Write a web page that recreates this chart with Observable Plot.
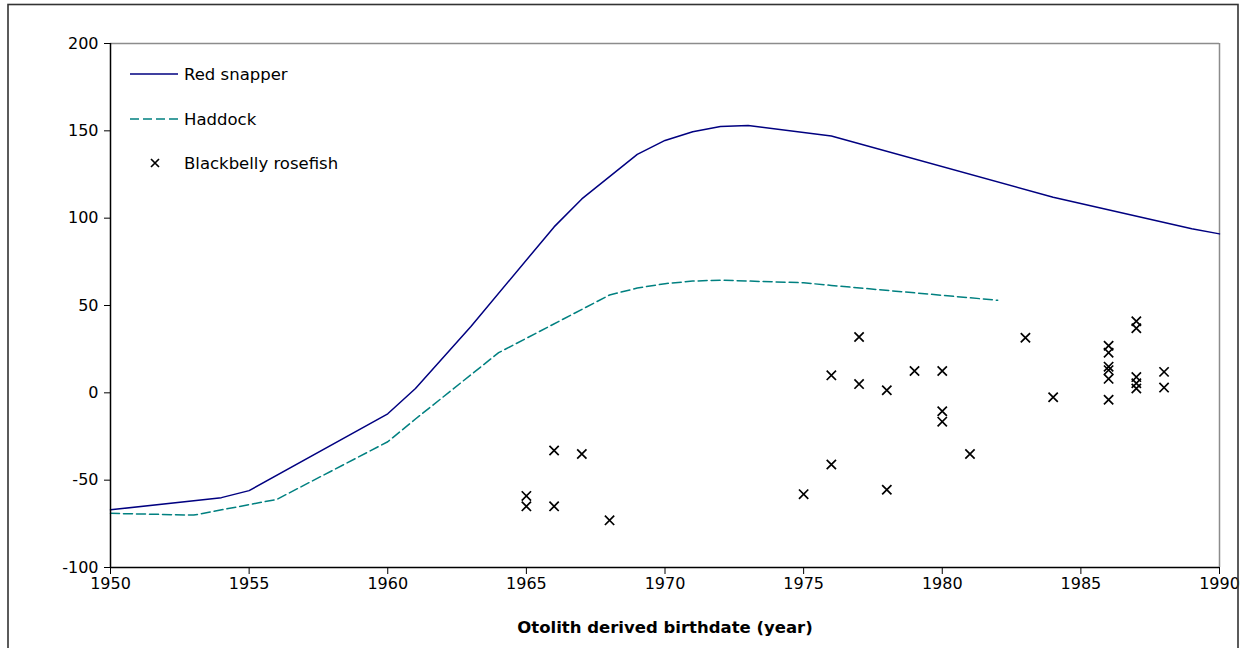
<!DOCTYPE html>
<html>
<head>
<meta charset="utf-8">
<script src="https://cdn.jsdelivr.net/npm/d3@7"></script>
<script src="https://cdn.jsdelivr.net/npm/@observablehq/plot@0.6"></script>
<style>
  html, body { margin: 0; padding: 0; background: #fff; }
  #chart { width: 1245px; height: 648px; overflow: hidden; }
</style>
</head>
<body>
<div id="chart"></div>
<script>
// Red snapper (solid navy line)
const snapperYears  = [1950, 1954, 1955, 1960, 1961, 1963, 1966, 1967, 1969, 1970, 1971, 1972, 1973, 1976, 1984, 1989, 1990];
const snapperValues = [-67, -60, -56, -12, 2.5, 38, 95, 111, 136.5, 144.5, 149.5, 152.5, 153, 147, 112, 94, 91];

// Haddock (dashed teal line)
const haddockYears  = [1950, 1953, 1956, 1960, 1961, 1964, 1968, 1969, 1970, 1971, 1972, 1975, 1976, 1982];
const haddockValues = [-69, -70, -61, -28, -15, 23, 56, 60, 62.5, 64, 64.5, 63, 61.5, 53];

// Blackbelly rosefish (x markers)
const roseYears  = [1965, 1965, 1966, 1966, 1967, 1968, 1975, 1976, 1976, 1977, 1977, 1978, 1978, 1979, 1980, 1980, 1980, 1981, 1983, 1984, 1986, 1986, 1986, 1986, 1986, 1986, 1987, 1987, 1987, 1987, 1987, 1988, 1988];
const roseValues = [-59, -65, -33, -65, -35, -73, -58, 10, -41, 32, 5, 1.5, -55.5, 12.5, 12.5, -10.5, -16.5, -35, 31.5, -2.5, 27, 23, 15, 13, 8, -4, 41, 37, 9, 5.5, 2.5, 12, 3];

const xTicks = [1950, 1955, 1960, 1965, 1970, 1975, 1980, 1985, 1990];
const yTicks = [-100, -50, 0, 50, 100, 150, 200];
const xLabel = "Otolith derived birthdate (year)";
const legendLabels = ["Red snapper", "Haddock", "Blackbelly rosefish"];

const snapper = snapperYears.map((x, i) => ({x, y: snapperValues[i]}));
const haddock = haddockYears.map((x, i) => ({x, y: haddockValues[i]}));
const rose = roseYears.map((x, i) => ({x, y: roseValues[i]}));

const fmt = d => String(d);
const W = 1245, H = 648;
const chart = Plot.plot({
  width: W,
  height: H,
  marginLeft: 110,
  marginRight: 26,
  marginTop: 43,
  marginBottom: 81,
  style: {fontFamily: "'DejaVu Sans', Verdana, sans-serif", fontSize: "16px", color: "#000", background: "#fff", overflow: "visible"},
  x: {domain: [1950, 1990], ticks: xTicks, tickFormat: fmt},
  y: {domain: [-100, 200], ticks: yTicks, tickFormat: fmt},
  marks: [
    Plot.ruleY([200], {stroke: "#8c8c8c", strokeWidth: 1.5}),
    Plot.ruleX([1990], {stroke: "#8c8c8c", strokeWidth: 1.5}),
    Plot.axisY({ticks: yTicks, tickFormat: fmt, tickSize: 6, tickPadding: 6, label: null, fontSize: 16, stroke: "#000"}),
    Plot.axisX({ticks: xTicks, tickFormat: fmt, tickSize: 7, tickPadding: 3, label: null, fontSize: 16, stroke: "#000"}),
    Plot.line(haddock, {x: "x", y: "y", stroke: "#008080", strokeWidth: 1.5, strokeDasharray: "9,4"}),
    Plot.line(snapper, {x: "x", y: "y", stroke: "#000080", strokeWidth: 1.5}),
    Plot.dot(rose, {x: "x", y: "y", symbol: "times", r: 4.3, stroke: "#000", strokeWidth: 1.7}),
    Plot.ruleY([-100], {stroke: "#000", strokeWidth: 1.5}),
    Plot.ruleX([1950], {stroke: "#000", strokeWidth: 1.5}),
    Plot.text([xLabel], {frameAnchor: "bottom", dy: 65, fontWeight: "bold", fontSize: 16.5, fill: "#000", text: d => d})
  ]
});
document.getElementById("chart").appendChild(chart);

// Legend + outer border
const svg = d3.select(chart);
const lg = svg.append("g").attr("font-family", "'DejaVu Sans', Verdana, sans-serif")
  .attr("font-size", 16.5).attr("text-anchor", "start");
const rows = [74, 119, 163];
lg.append("line").attr("x1", 130).attr("x2", 178).attr("y1", rows[0]).attr("y2", rows[0])
  .attr("stroke", "#000080").attr("stroke-width", 1.5);
lg.append("line").attr("x1", 130).attr("x2", 178).attr("y1", rows[1]).attr("y2", rows[1])
  .attr("stroke", "#008080").attr("stroke-width", 1.5).attr("stroke-dasharray", "9,4");
const cx = 155, cy = rows[2], s = 4;
lg.append("path").attr("d", `M${cx-s},${cy-s}L${cx+s},${cy+s}M${cx-s},${cy+s}L${cx+s},${cy-s}`)
  .attr("stroke", "#000").attr("stroke-width", 1.7);
legendLabels.forEach((t, i) => {
  lg.append("text").attr("x", 184).attr("y", rows[i]).attr("dy", "0.35em").attr("fill", "#000")
    .attr("text-anchor", "start").text(t);
});
svg.append("rect").attr("x", 8).attr("y", 4.5).attr("width", 1230).attr("height", 700)
  .attr("fill", "none").attr("stroke", "#333").attr("stroke-width", 1.6);
</script>
</body>
</html>
